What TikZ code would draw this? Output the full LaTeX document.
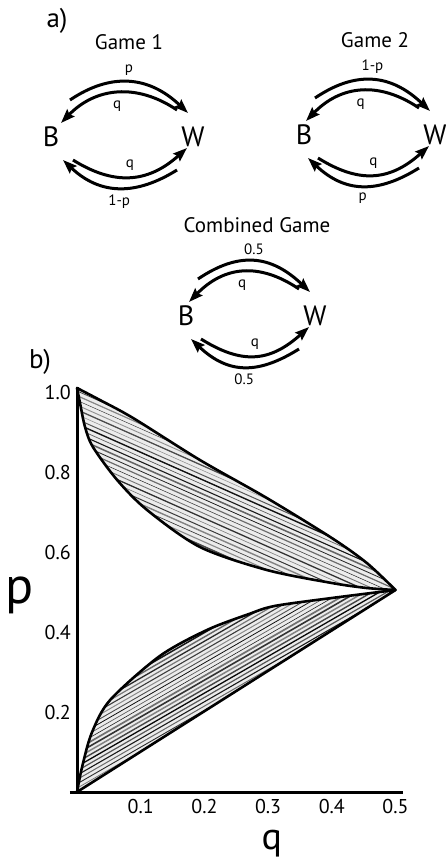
\documentclass[tikz,border=0pt]{standalone}
\usepackage{fontspec}
\setmainfont{PT Sans}
\usetikzlibrary{arrows.meta}

\begin{document}
\begin{tikzpicture}[x=1pt, y=-1pt, >={Stealth[length=14pt,width=10pt,inset=2pt]},
  state/.style={font=\fontsize{28}{30}\selectfont, inner sep=0pt},
  gamelbl/.style={font=\fontsize{21}{24}\selectfont},
  prob/.style={font=\fontsize{15}{17}\selectfont, inner sep=1pt},
  flow/.style={->, line width=3pt},
  tick/.style={font=\fontsize{20}{22}\selectfont, inner sep=0pt},
  axis/.style={line width=3pt},
  rim/.style={line width=2.6pt, line join=round},
  panel/.style={font=\fontsize{27}{30}\selectfont}]
\useasboundingbox (0,0) rectangle (446,859);

% a) the three games
\node[panel] (pa) at (57,21) {a)};
\node[gamelbl] (g1) at (129,42) {Game 1};
\node[gamelbl] (g2) at (375,40) {Game 2};
\node[gamelbl] (g3) at (257,225) {Combined Game};

\foreach \g/\xb/\xw/\yy/\ins/\up/\dn in {1/51/193/137/19/p/1-p, 2/304/435/135/11/1-p/p, 3/186/315/316/12/0.5/0.5}{
  \node[state] (B\g) at (\xb,\yy) {B};
  \node[state] (W\g) at (\xw,\yy) {W};
  \draw[flow] ([shift={(\ins,-37)}]B\g.center) .. controls +(40,-27) and +(-40,-38) .. ([shift={(-5,-24)}]W\g.center)
    node[prob, midway, above=4pt] {\up};
  \draw[flow] ([shift={(-16,-27)}]W\g.center) .. controls +(-40,-27) and +(35,-36) .. ([shift={(\ins-9,-14)}]B\g.center)
    node[prob, midway, below=5pt] {q};
  \draw[flow] ([shift={(\ins+3,23)}]B\g.center) .. controls +(40,25) and +(-40,36) .. ([shift={(-6,11)}]W\g.center)
    node[prob, midway, above=4pt] {q};
  \draw[flow] ([shift={(-16,33)}]W\g.center) .. controls +(-40,25) and +(38,36) .. ([shift={(\ins-7,23)}]B\g.center)
    node[prob, midway, below=4pt] {\dn};
}

% b) parameter regions
\node[panel] (pb) at (40,362) {b)};
\begin{scope}[shift={(77,792)}, x=637pt, y=400pt]
  \coordinate (O) at (0,0);
  \coordinate (ptop) at (0,1.0125);
  \coordinate (qstart) at (-0.011,0);
  \coordinate (qend) at (0.512,0);

  % upper region, hand hatched
  \begin{scope}
    \clip plot[smooth] coordinates {(0,1.01) (0.036,0.98) (0.088,0.935) (0.193,0.83) (0.298,0.735) (0.40,0.635) (0.455,0.5725) (0.5,0.505)}
      -- plot[smooth] coordinates {(0.5,0.505) (0.455,0.51) (0.40,0.5225) (0.298,0.555) (0.193,0.6125) (0.11,0.705) (0.063,0.78) (0.025,0.8625) (0.0126,0.9125) (0.005,0.97) (0,1.01)}
      -- cycle;
    \fill[gray!15] (-0.1,0.4) rectangle (0.6,1.1);
    \foreach \i in {0,...,27}{
      \pgfmathtruncatemacro\s{40+mod(\i*29,55)}
      \pgfmathsetmacro\w{0.5+mod(\i*7,11)/10}
      \draw[black!\s, line width=\w pt] (-0.05,0.72+\i*0.0118+0.035) -- (0.55,0.72+\i*0.0118-0.39);
    }
  \end{scope}
  \draw[rim] plot[smooth] coordinates {(0,1.01) (0.036,0.98) (0.088,0.935) (0.193,0.83) (0.298,0.735) (0.40,0.635) (0.455,0.5725) (0.5,0.505)}
    -- plot[smooth] coordinates {(0.5,0.505) (0.455,0.51) (0.40,0.5225) (0.298,0.555) (0.193,0.6125) (0.11,0.705) (0.063,0.78) (0.025,0.8625) (0.0126,0.9125) (0.005,0.97) (0,1.01)}
    -- cycle;

  % lower region, hand hatched
  \begin{scope}
    \clip (O) -- (0.5,0.505)
      -- plot[smooth] coordinates {(0.5,0.505) (0.40,0.485) (0.31,0.465) (0.27,0.445) (0.204,0.405) (0.13,0.34) (0.052,0.23) (0.023,0.147) (0.008,0.0625) (0,0)}
      -- cycle;
    \fill[gray!15] (-0.1,-0.1) rectangle (0.6,0.6);
    \foreach \i in {0,...,22}{
      \pgfmathtruncatemacro\s{45+mod(\i*31,55)}
      \pgfmathsetmacro\w{0.6+mod(\i*13,12)/10}
      \draw[black!\s, line width=\w pt] (-0.05,-0.012+\i*0.0108-0.046) -- (0.55,-0.012+\i*0.0108+0.505);
    }
  \end{scope}
  \draw[rim] (O) -- (0.5,0.505)
    -- plot[smooth] coordinates {(0.5,0.505) (0.40,0.485) (0.31,0.465) (0.27,0.445) (0.204,0.405) (0.13,0.34) (0.052,0.23) (0.023,0.147) (0.008,0.0625) (0,0)}
    -- cycle;

  \draw[axis] (ptop) -- (O);
  \draw[axis] (qstart) -- (qend);

  \foreach \v [count=\i] in {0.2,0.4,0.6,0.8,1.0}
    \node[tick, anchor=east] (pt\i) at (-0.0094,\v) {\v};
  \foreach \v [count=\i] in {0.1,0.2,0.3,0.4,0.5}
    \node[tick] (qt\i) at (\v,-0.036) {\v};

  \node[font=\fontsize{52}{56}\selectfont, inner sep=0pt, anchor=base] (plbl) at (-0.0895,0.4725) {p};
  \node[font=\fontsize{38}{42}\selectfont, inner sep=0pt, anchor=base] (qlbl) at (0.306,-0.1425) {q};
\end{scope}
\end{tikzpicture}
\end{document}
